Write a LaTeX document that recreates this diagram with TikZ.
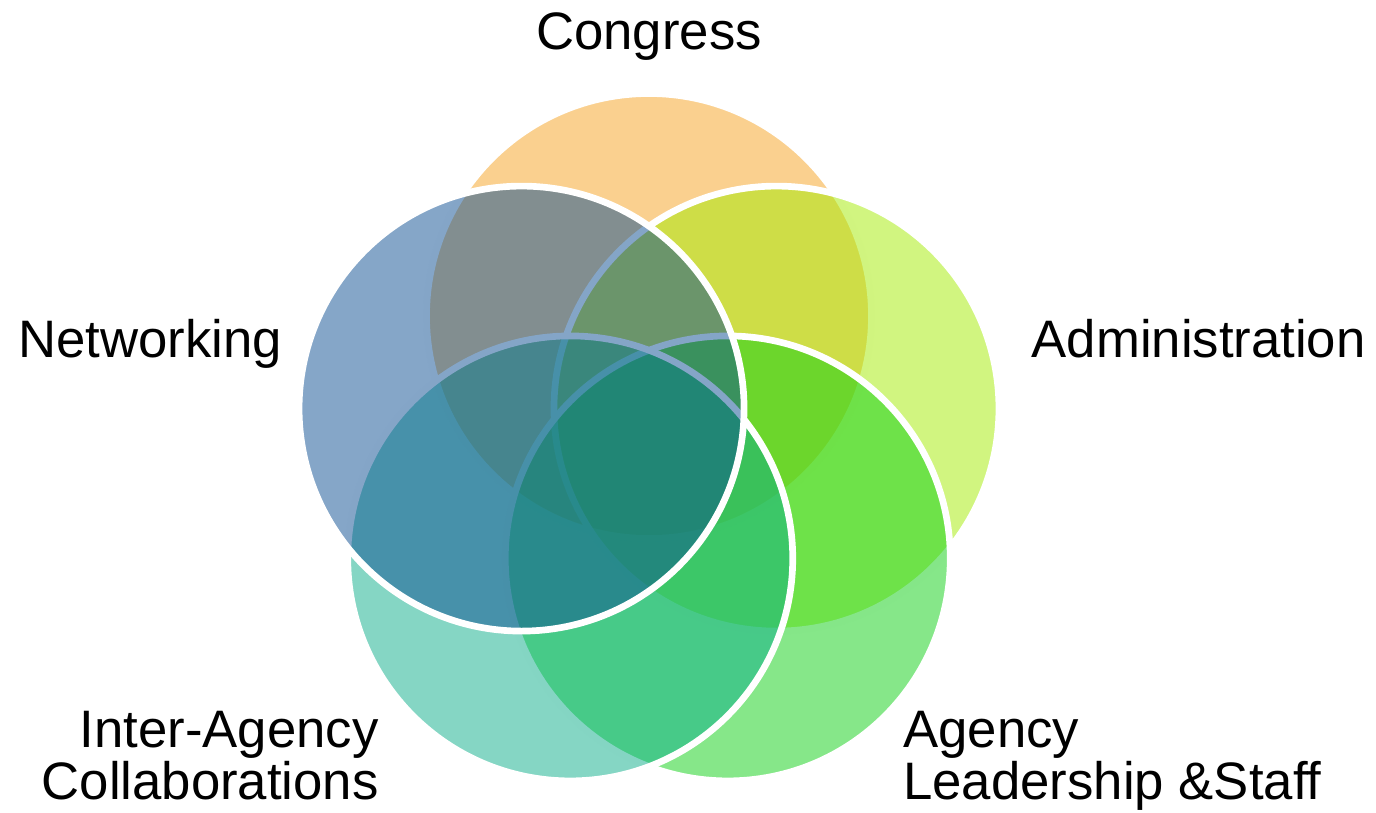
\documentclass[tikz,border=0pt]{standalone}
\usepackage{fontspec}
\setmainfont{Liberation Sans}
\usepackage{tikz}
\usepackage{xcolor}
\usetikzlibrary{positioning}

\definecolor{congressC}{RGB}{245,161,31}
\definecolor{adminC}{RGB}{163,235,1}
\definecolor{agencyC}{RGB}{13,207,19}
\definecolor{interC}{RGB}{11,173,137}
\definecolor{netC}{RGB}{11,77,145}

\tikzset{
  petal/.style={circle, draw=white, line width=3.8pt, fill opacity=0.5,
    minimum size=8.9cm, inner sep=0pt},
  lbl/.style={inner sep=0pt, font=\fontsize{30}{29.5}\selectfont}
}

\begin{document}
\begin{tikzpicture}
        \useasboundingbox (0,0) rectangle (27.52,16.24);
        \coordinate (o) at (12.98,7.24);
        % circles, back to front
        \node[petal, fill=congressC] (congress) at ([shift={(90:2.68)}]o) {};
        \node[petal, fill=adminC] (admin) at ([shift={(18:2.68)}]o) {};
        \node[petal, fill=agencyC] (agency) at ([shift={(-54:2.68)}]o) {};
        \node[petal, fill=interC] (inter) at ([shift={(-126:2.68)}]o) {};
        \node[petal, fill=netC] (net) at ([shift={(162:2.68)}]o) {};
        % labels
        \node[lbl, anchor=base] (congresslbl) at (12.98,15.24) {Congress};
        \node[lbl, anchor=base west] (netlbl) at (0.36,9.10) {Networking};
        \node[lbl, anchor=base east] (adminlbl) at (27.32,9.10) {Administration};
        \node[lbl, anchor=north east, align=right] (interlbl) at (7.58,2.02) {Inter-Agency\\Collaborations};
        \node[lbl, anchor=north west, align=left] (agencylbl) at (18.06,2.02) {Agency\\Leadership \&Staff};
    \end{tikzpicture}
\end{document}
